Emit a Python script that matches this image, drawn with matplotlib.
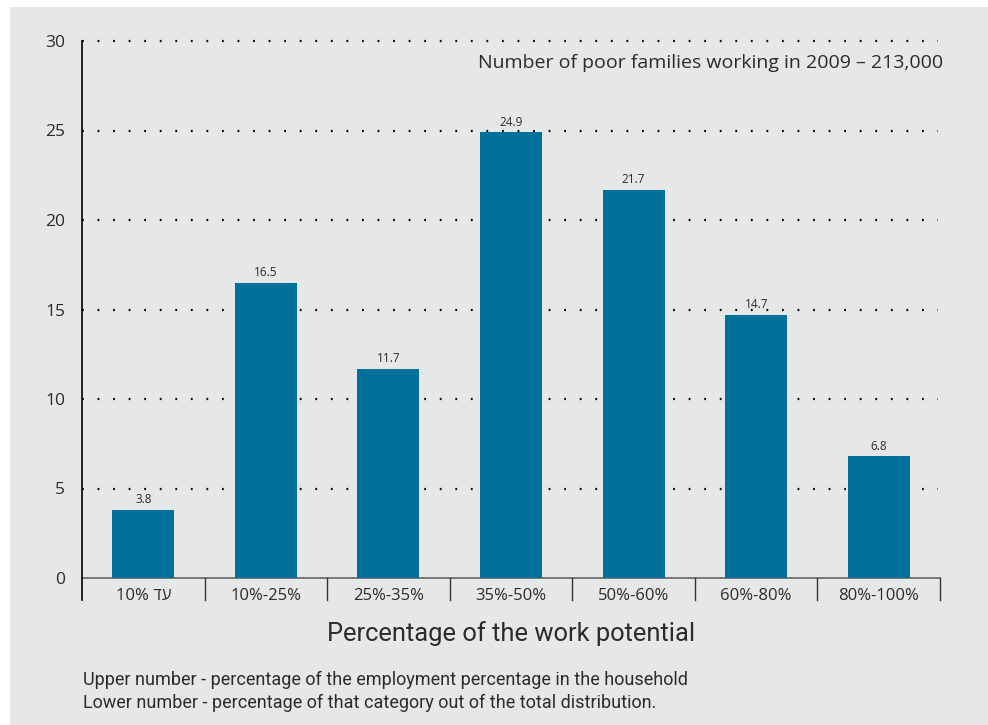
import numpy as np
import matplotlib.pyplot as plt
from matplotlib.patches import Rectangle

# share of working poor families by work-potential bracket (2009)
categories = ['10% \u05d3\u05e2', '10%-25%', '25%-35%', '35%-50%',
              '50%-60%', '60%-80%', '80%-100%']
shares = [3.8, 16.5, 11.7, 24.9, 21.7, 14.7, 6.8]
y_ticks = [0, 5, 10, 15, 20, 25, 30]

BAR = '#00729a'
BG = '#e6e7e9'
TXT = '#2b2b2b'
FONT = ['Open Sans', 'DejaVu Sans']
COND = ['Roboto', 'DejaVu Sans']

fig = plt.figure(figsize=(9.88, 7.25), dpi=100)
fig.patch.set_facecolor('white')
fig.patches.append(Rectangle((10 / 988, 0), 1, 1 - 7 / 725, transform=fig.transFigure,
                             facecolor=BG, edgecolor='none', zorder=-10))

ax = fig.add_axes([82 / 988, 1 - 578 / 725, (940 - 82) / 988, (578 - 41) / 725])
ax.set_facecolor('none')

x = np.arange(len(categories))
bars = ax.bar(x, shares, width=0.505, color=BAR, zorder=3)
for xi, v in zip(x, shares):
    ax.text(xi, v + 0.2, f'{v}', ha='center', va='bottom', fontsize=8.5,
            color=TXT, family=FONT, zorder=4)

ax.set_xlim(-0.5, len(categories) - 0.5)
ax.set_ylim(0, 30)

# dotted guide lines
for yt in y_ticks[1:]:
    ax.plot([-0.5, len(categories) - 0.52], [yt, yt], color='black',
            linestyle=(0, (0.8, 6.2)), linewidth=1.6, zorder=1, clip_on=False)

ax.set_yticks(y_ticks)
ax.set_yticklabels([str(t) for t in y_ticks], fontsize=12.5, color=TXT, family=FONT)
ax.tick_params(axis='y', length=0, pad=12)
ax.set_xticks(x)
ax.set_xticklabels(categories, fontsize=12, color=TXT, family=FONT)
ax.tick_params(axis='x', length=0, pad=7)

for s in ['top', 'right', 'left']:
    ax.spines[s].set_visible(False)
ax.spines['bottom'].set_color('#6e6e6e')
ax.spines['bottom'].set_linewidth(1.3)

# left axis line and category separators reaching below the baseline
drop = -22 / 17.9
ax.plot([-0.5, -0.5], [drop, 30], color='black', linewidth=1.2, clip_on=False, zorder=5)
for b in np.arange(0.5, len(categories) + 0.5, 1.0):
    ax.plot([b, b], [drop, 0], color='#333333', linewidth=1.0, clip_on=False, zorder=5)

ax.text(943 / 988, 1 - 63 / 725, 'Number of poor families working in 2009 \u2013 213,000',
        transform=fig.transFigure, ha='right', va='center', fontsize=14,
        color=TXT, family=FONT)

fig.text(511 / 988, 1 - 634 / 725, 'Percentage of the work potential',
         ha='center', va='center', fontsize=18.4, color=TXT, family=COND)
fig.text(83 / 988, 1 - 680 / 725,
         'Upper number - percentage of the employment percentage in the household',
         ha='left', va='center', fontsize=13, color=TXT, family=COND)
fig.text(83 / 988, 1 - 703 / 725,
         'Lower number - percentage of that category out of the total distribution.',
         ha='left', va='center', fontsize=13, color=TXT, family=COND)

fig.savefig('out.png', dpi=100, facecolor=fig.get_facecolor())
